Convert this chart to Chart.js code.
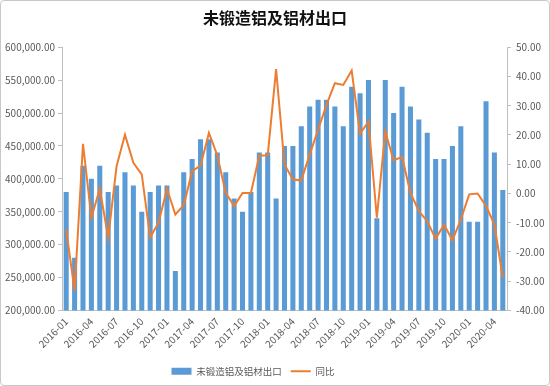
<!DOCTYPE html>
<html>
<head>
<meta charset="utf-8">
<script src="https://cdn.jsdelivr.net/npm/chart.js@4.4.0/dist/chart.umd.min.js"></script>
<style>
    html, body { margin: 0; padding: 0; background: #fff; }
    .frame {
        position: relative;
        width: 548px;
        height: 384px;
        border: 1px solid #c8c8c8;
        border-radius: 4px;
        overflow: hidden;
    }
    canvas { position: absolute; left: -1px; top: -1px; }
</style>
</head>
<body>
<div class="frame">
    <canvas id="exportChart" width="550" height="386"></canvas>
</div>
<script>
// months 2016-01 .. 2020-05
const months = [];
for (let y = 2016; y <= 2020; y++) {
    for (let m = 1; m <= 12; m++) {
        if (y === 2020 && m > 5) break;
        months.push(`${y}-${String(m).padStart(2, '0')}`);
    }
}

// export volume (tonnes)
const exportVolume = [
    380000, 280000, 420000, 400000, 420000, 380000, 390000, 410000, 390000, 350000, 380000, 390000,
    390000, 260000, 410000, 430000, 460000, 460000, 440000, 410000, 370000, 350000, 380000, 440000,
    440000, 370000, 450000, 450000, 480000, 510000, 520000, 520000, 510000, 480000, 540000, 530000,
    550000, 340000, 550000, 500000, 540000, 510000, 490000, 470000, 430000, 430000, 450000, 480000,
    335000, 335000, 518000, 440000, 383000
];

// year-on-year change (%)
const yoyChange = [
    -12.3, -33.3, 17.0, -8.3, 1.6, -15.1, 9.3, 20.1, 10.5, 6.5, -15.0, -10.0,
    1.6, -7.2, -4.0, 7.6, 9.5, 20.7, 13.0, 0.2, -4.3, 0.2, 0.2, 13.0,
    13.0, 42.5, 9.9, 4.8, 4.5, 13.3, 21.8, 30.3, 37.7, 37.1, 42.0, 20.4,
    24.6, -8.3, 21.2, 11.3, 12.5, 0.2, -6.0, -9.5, -15.5, -10.6, -16.0, -8.9,
    -0.3, 0.0, -4.3, -10.6, -28.8
];

const fmt2 = v => Number(v).toLocaleString('en-US', { minimumFractionDigits: 2, maximumFractionDigits: 2 });
const tickFont = { family: '"Noto Sans CJK SC", "Noto Sans", sans-serif', size: 10 };
const axisGray = '#bfbfbf';
const labelGray = '#595959';

// nudge the legend a little left, like the Excel original
const legendShift = {
    id: 'legendShift',
    afterLayout(chart) {
        chart.legend.left -= 22;
        chart.legend.right -= 22;
    }
};

new Chart(document.getElementById('exportChart'), {
    data: {
        labels: months,
        datasets: [
            {
                type: 'line',
                label: '同比',
                data: yoyChange,
                yAxisID: 'yRight',
                borderColor: '#ED7D31',
                backgroundColor: '#ED7D31',
                borderWidth: 2,
                pointRadius: 0,
                tension: 0,
                pointStyle: 'line',
                order: 0
            },
            {
                type: 'bar',
                label: '未锻造铝及铝材出口',
                data: exportVolume,
                yAxisID: 'yLeft',
                backgroundColor: '#5B9BD5',
                barPercentage: 0.6,
                categoryPercentage: 1.0,
                pointStyle: 'rect',
                order: 1
            }
        ]
    },
    options: {
        responsive: false,
        animation: false,
        layout: { padding: { left: 0, right: 0, top: 0, bottom: 0 } },
        plugins: {
            title: {
                display: true,
                text: '未锻造铝及铝材出口',
                color: '#111',
                font: { family: '"Noto Sans CJK SC", sans-serif', size: 16, weight: 'bold' },
                padding: { top: 8, bottom: 20 }
            },
            legend: {
                position: 'bottom',
                reverse: true,
                labels: {
                    usePointStyle: true,
                    pointStyleWidth: 20,
                    boxHeight: 7,
                    color: labelGray,
                    font: { family: tickFont.family, size: 9.5 },
                    padding: 9
                }
            },
            tooltip: { enabled: false }
        },
        scales: {
            x: {
                offset: true,
                grid: { display: true, drawOnChartArea: false, drawTicks: false, color: axisGray },
                border: { color: axisGray },
                ticks: {
                    autoSkip: false,
                    minRotation: 45,
                    maxRotation: 45,
                    padding: 5,
                    color: labelGray,
                    font: tickFont,
                    callback: (v, i) => i % 3 === 0 ? months[i] : ''
                },
                afterFit: s => { s.height = 47; }
            },
            yLeft: {
                position: 'left',
                min: 200000,
                max: 600000,
                grid: { drawOnChartArea: false, tickLength: 4, color: axisGray },
                border: { color: axisGray },
                ticks: {
                    stepSize: 50000,
                    padding: 3,
                    color: labelGray,
                    font: tickFont,
                    callback: v => fmt2(v)
                },
                afterFit: s => { s.width = 62; }
            },
            yRight: {
                position: 'right',
                min: -40,
                max: 50,
                grid: { drawOnChartArea: false, tickLength: 4, color: axisGray },
                border: { color: axisGray },
                ticks: {
                    stepSize: 10,
                    padding: 5,
                    color: labelGray,
                    font: tickFont,
                    callback: v => fmt2(v)
                },
                afterFit: s => { s.width = 43; }
            }
        }
    },
    plugins: [legendShift]
});
</script>
</body>
</html>
